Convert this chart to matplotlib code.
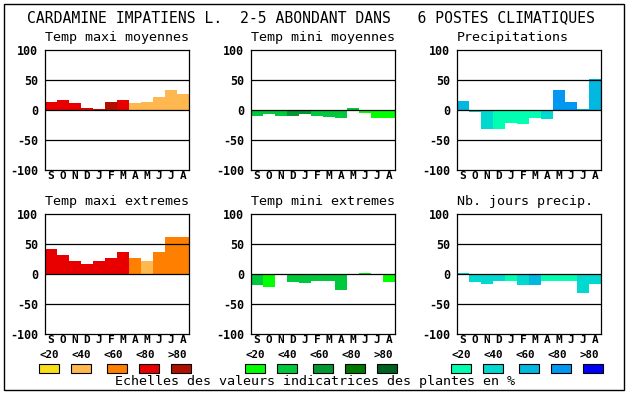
import matplotlib
matplotlib.use('Agg')
import matplotlib.pyplot as plt
from matplotlib.patches import Rectangle

# Data: indicator values per month (Sep..Aug) and abundance class of each bar
months = ['S', 'O', 'N', 'D', 'J', 'F', 'M', 'A', 'M', 'J', 'J', 'A']

tmax_moy = [14, 17, 12, 4, 2, 14, 17, 12, 14, 22, 33, 27]
tmax_moy_cls = [3, 3, 3, 3, 3, 4, 3, 1, 1, 1, 1, 1]

tmin_moy = [-10, -7, -10, -10, -7, -10, -12, -13, 3, -5, -13, -13]
tmin_moy_cls = [1, 1, 1, 2, 2, 1, 1, 1, 1, 0, 0, 0]

precip = [15, -4, -31, -31, -22, -23, -14, -15, 33, 14, 2, 51]
precip_cls = [2, 1, 1, 0, 0, 0, 0, 1, 3, 3, 2, 2]

tmax_ext = [42, 32, 21, 17, 21, 26, 37, 27, 22, 36, 61, 62]
tmax_ext_cls = [3, 3, 3, 3, 3, 3, 3, 2, 1, 2, 2, 2]

tmin_ext = [-18, -21, -4, -14, -15, -11, -12, -27, -3, 2, -3, -14]
tmin_ext_cls = [1, 0, -1, 1, 1, 1, 1, 1, -1, 0, -1, 0]

nb_jours = [2, -14, -16, -12, -12, -18, -18, -12, -12, -11, -31, -16]
nb_jours_cls = [1, 1, 1, 1, 0, 1, 2, 0, 0, 0, 1, 1]

legend_labels = ['<20', '<40', '<60', '<80', '>80']

warm = ['#f8e018', '#ffb850', '#ff8000', '#e80000', '#b01000']
green = ['#00ff00', '#00c83c', '#009830', '#007800', '#006020']
blue = ['#00ffb0', '#00d8d0', '#00b8e0', '#0098f0', '#0000f8']

W, H = 630, 394
mono = 'DejaVu Sans Mono'


def fx(x):
    return x / W


def fy(y):
    return 1 - y / H


fig = plt.figure(figsize=(6.3, 3.94), dpi=100)
fig.add_artist(Rectangle((fx(4), fy(390)), 620 / W, 386 / H, fill=False,
                         lw=1, ec='black', transform=fig.transFigure))

fig.text(fx(27), fy(18), 'CARDAMINE IMPATIENS L.  2-5 ABONDANT DANS   6 POSTES CLIMATIQUES',
         family=mono, fontsize=10.6, ha='left', va='center')

panels = [
    ('Temp maxi moyennes', tmax_moy, tmax_moy_cls, warm, 45, 50),
    ('Temp mini moyennes', tmin_moy, tmin_moy_cls, green, 251, 50),
    ('Precipitations', precip, precip_cls, blue, 457, 50),
    ('Temp maxi extremes', tmax_ext, tmax_ext_cls, warm, 45, 214),
    ('Temp mini extremes', tmin_ext, tmin_ext_cls, green, 251, 214),
    ('Nb. jours precip.', nb_jours, nb_jours_cls, blue, 457, 214),
]

for title, vals, cls, pal, left, top in panels:
    ax = fig.add_axes([fx(left), fy(top + 120), 144 / W, 120 / H])
    cols = ['white' if c < 0 else pal[c] for c in cls]
    ax.bar(range(12), vals, width=1.0, color=cols, linewidth=0, zorder=2)
    for yv in (50, 0, -50):
        ax.axhline(yv, color='black', lw=0.9, zorder=3)
    ax.set_xlim(-0.5, 11.5)
    ax.set_ylim(-100, 100)
    ax.set_yticks([100, 50, 0, -50, -100])
    ax.set_yticklabels(['100', '50', '0', '-50', '-100'], family=mono,
                       fontweight='bold', fontsize=8.4)
    ax.set_xticks(range(12))
    ax.set_xticklabels(months, family=mono, fontweight='bold', fontsize=8.0)
    ax.tick_params(length=0, pad=0.8, axis='x')
    ax.tick_params(length=0, pad=5, axis='y')
    for s in ax.spines.values():
        s.set_linewidth(0.9)
    fig.text(fx(left), fy(top - 12), title, family=mono, fontsize=9.6,
             ha='left', va='center')

# legends under the bottom row
box_off = [4, 36, 72, 104, 136]
for pal, left in ((warm, 45), (green, 251), (blue, 457)):
    for i in range(5):
        fig.text(fx(left + 4 + 32 * i), fy(355), legend_labels[i], family=mono,
                 fontweight='bold', fontsize=7.8, ha='center', va='center')
        cx = left + box_off[i]
        fig.add_artist(Rectangle((fx(cx - 10), fy(373)), 20 / W, 9 / H,
                                 fc=pal[i], ec='black', lw=0.8,
                                 transform=fig.transFigure))

fig.text(fx(315), fy(382), 'Echelles des valeurs indicatrices des plantes en %',
         family=mono, fontsize=9.6, ha='center', va='center')

fig.savefig('out.png', dpi=100)
